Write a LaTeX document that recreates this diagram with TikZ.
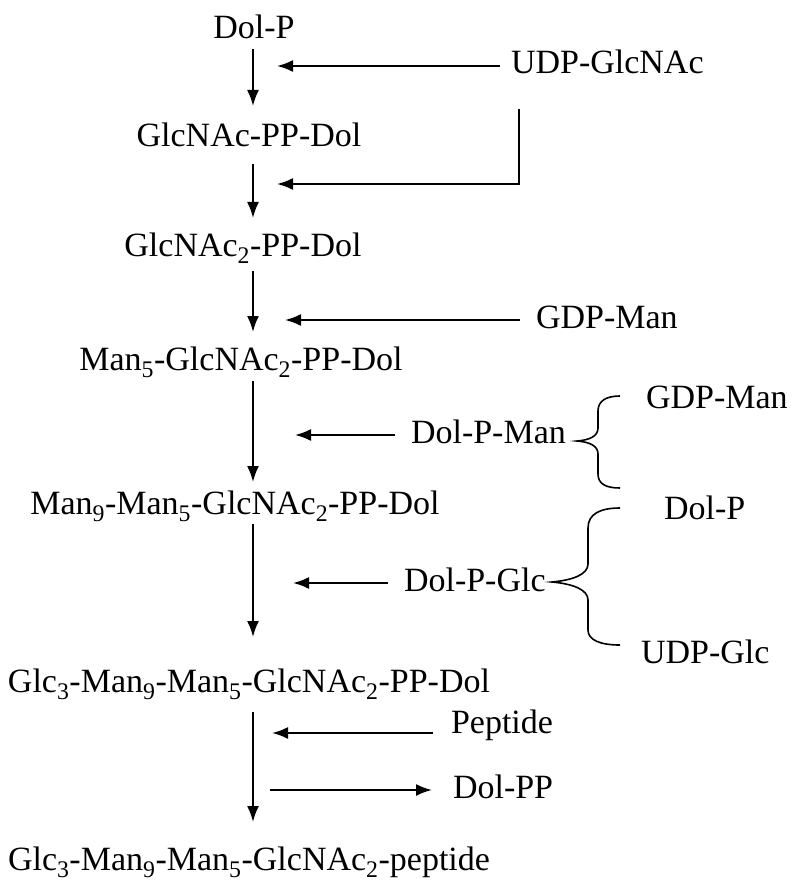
\documentclass[tikz,border=0pt]{standalone}
\usepackage{fontspec}
\setmainfont{Liberation Serif}
\usetikzlibrary{arrows.meta}
\newcommand{\sub}[1]{\textsubscript{#1}}
\begin{document}
\begin{tikzpicture}[>={Latex[length=16pt,width=12pt]},line width=2pt,x=1pt,y=-1pt,
  font=\fontsize{34}{40}\selectfont,
  chem/.style={inner sep=0pt,text height=23pt,text depth=7pt},
  side/.style={chem,anchor=west}]
\useasboundingbox (0,0) rectangle (793,885);
\coordinate (col) at (253,0);
% main chain
\node[chem] (dolp) at (254,31) {Dol-P};
\node[chem] (glcnac) at (249,139) {GlcNAc-PP-Dol};
\node[chem] (glcnacb) at (243,248) {GlcNAc\sub{2}-PP-Dol};
\node[chem] (man5) at (241,362) {Man\sub{5}-GlcNAc\sub{2}-PP-Dol};
\node[chem] (man9) at (235,506) {Man\sub{9}-Man\sub{5}-GlcNAc\sub{2}-PP-Dol};
\node[chem] (glc3) at (249,684) {Glc\sub{3}-Man\sub{9}-Man\sub{5}-GlcNAc\sub{2}-PP-Dol};
\node[chem] (glcpep) at (249,862) {Glc\sub{3}-Man\sub{9}-Man\sub{5}-GlcNAc\sub{2}-peptide};
\draw[->,shorten <=2pt,shorten >=17pt] (dolp.south -| col) -- (glcnac.north -| col);
\draw[->,shorten <=9pt,shorten >=14pt] (glcnac.south -| col) -- (glcnacb.north -| col);
\draw[->,shorten <=7pt,shorten >=14pt] (glcnacb.south -| col) -- (man5.north -| col);
\draw[->,shorten <=3pt,shorten >=8pt] (man5.south -| col) -- (man9.north -| col);
\draw[->,shorten <=2pt,shorten >=31pt] (man9.south -| col) -- (glc3.north -| col);
\draw[->,shorten <=12pt,shorten >=24pt] (glc3.south -| col) -- (glcpep.north -| col);
% donors
\node[side] (udpglcnac) at (510,66) {UDP-GlcNAc};
\node[side] (gdpman) at (535,320) {GDP-Man};
\node[side] (dolpman) at (410,435) {Dol-P-Man};
\node[side] (gdpmanb) at (645,400) {GDP-Man};
\node[side] (dolpb) at (663,511) {Dol-P};
\node[side] (dolpglc) at (403,583) {Dol-P-Glc};
\node[side] (udpglc) at (640,655) {UDP-Glc};
\node[side] (peptide) at (450,725) {Peptide};
\node[side] (dolpp) at (452,790) {Dol-PP};
\coordinate (brk) at (519,184);
\draw[->,shorten <=10pt,shorten >=24pt] (udpglcnac.west) -- (udpglcnac.west -| col);
\draw[->,shorten <=27pt,shorten >=24pt] (udpglcnac.south -| brk) |- (brk -| col);
\draw[->,shorten <=15pt,shorten >=32pt] (gdpman.west) -- (gdpman.west -| col);
\draw[->,shorten <=15pt,shorten >=42pt] (dolpman.west) -- (dolpman.west -| col);
\draw[->,shorten <=15pt,shorten >=40pt] (dolpglc.west) -- (dolpglc.west -| col);
\draw[->,shorten <=17pt,shorten >=19pt] (peptide.base west) -- (peptide.base west -| col);
\draw[->,shorten <=17pt,shorten >=20pt] (dolpp.west -| col) -- (dolpp.west);
% braces
\draw[line width=1.6pt] (620,396) .. controls (606,396) and (598,401) .. (598,411)
  -- (598,428) .. controls (598,436) and (590,440) .. (577,441)
  .. controls (590,442) and (598,446) .. (598,454)
  -- (598,474) .. controls (598,484) and (606,488) .. (620,488);
\draw[line width=1.6pt] (620,508) .. controls (600,508) and (588,514) .. (588,528)
  -- (588,564) .. controls (588,574) and (574,580) .. (552,582)
  .. controls (574,584) and (588,590) .. (588,600)
  -- (588,630) .. controls (588,640) and (600,645) .. (620,645);
\end{tikzpicture}
\end{document}
